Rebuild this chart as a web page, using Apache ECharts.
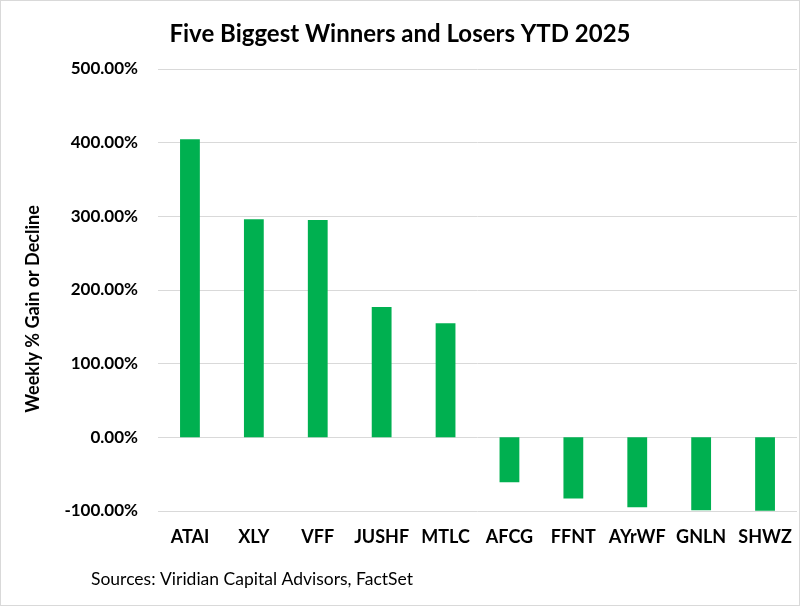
<!DOCTYPE html>
<html>
<head>
<meta charset="utf-8">
<script src="https://cdn.jsdelivr.net/npm/echarts@6/dist/echarts.min.js"></script>
<style>
html,body{margin:0;padding:0;background:#fff;}
#c{width:798px;height:604px;border:1px solid #d9d9d9;}
</style>
</head>
<body>
<div id="c"></div>
<script>
const categories = ['ATAI','XLY','VFF','JUSHF','MTLC','AFCG','FFNT','AYrWF','GNLN','SHWZ'];
const values = [404.5, 296, 295, 177, 155, -61, -83, -95, -99, -99.6];
const yTicks = [-100, 0, 100, 200, 300, 400, 500];

const chart = echarts.init(document.getElementById('c'));
const font = 'Lato, "Open Sans", sans-serif';
chart.setOption({
  animation: false,
  title: {
    text: 'Five Biggest Winners and Losers YTD 2025',
    left: 'center', top: 16,
    textStyle: {fontFamily: font, fontSize: 24, fontWeight: 'bold', color: '#000'}
  },
  graphic: [{
    type: 'text', left: 90, top: 569,
    style: {text: 'Sources: Viridian Capital Advisors, FactSet', fontFamily: font, fontSize: 17.5, fill: '#000'}
  }, {
    type: 'text', x: 32, y: 308, rotation: Math.PI / 2,
    style: {text: 'Weekly % Gain or Decline', fontFamily: font, fontSize: 18, fontWeight: 'bold', fill: '#000',
      align: 'center', verticalAlign: 'middle'}
  }],
  grid: {left: 157, right: 2, top: 68, bottom: 94},
  xAxis: {
    type: 'category', data: categories,
    axisLine: {show: false}, axisTick: {show: false},
    axisLabel: {interval: 0, fontFamily: font, fontSize: 18, fontWeight: 'bold', color: '#000', margin: 17}
  },
  yAxis: {
    type: 'value', min: yTicks[0], max: yTicks[yTicks.length-1], interval: 100,
    axisLine: {show: false}, axisTick: {show: false},
    axisLabel: {fontFamily: font, fontSize: 17, fontWeight: 'bold', color: '#000', margin: 20,
      formatter: v => v.toFixed(2) + '%'},
    splitLine: {lineStyle: {color: '#d9d9d9', width: 1}}
  },
  series: [{
    type: 'bar', data: values, barWidth: '31%',
    itemStyle: {color: '#00B050'}
  }]
});
</script>
</body>
</html>
